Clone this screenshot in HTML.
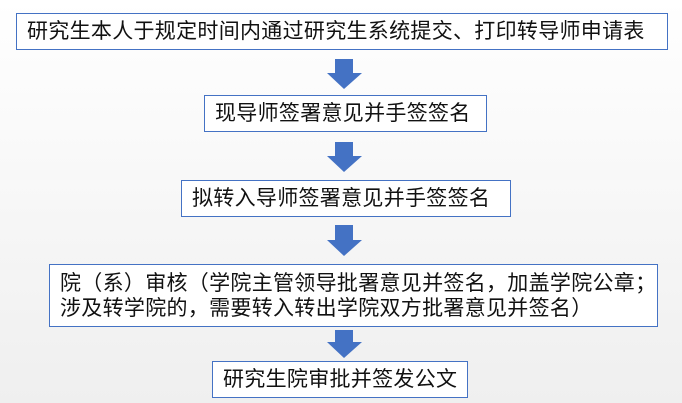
<!DOCTYPE html>
<html><head><meta charset="utf-8"><style>
body{margin:0;width:682px;height:403px;background:linear-gradient(#ffffff,#efefef);position:relative;overflow:hidden;font-family:"Liberation Sans","Noto Sans CJK SC",sans-serif;}
.b{position:absolute;background:#fff;border:1.5px solid #4472c4;box-sizing:border-box;font-size:21px;letter-spacing:0.3px;color:#111;line-height:25px;padding-left:10px;display:flex;align-items:center;white-space:nowrap}
svg{position:absolute;left:0;top:0}
</style></head><body>
<div class="b" style="left:16px;top:13px;width:652px;height:37px;">研究生本人于规定时间内通过研究生系统提交、打印转导师申请表</div>
<div class="b" style="left:204px;top:95px;width:283px;height:37px;">现导师签署意见并手签签名</div>
<div class="b" style="left:181px;top:180px;width:330px;height:37px;">拟转入导师签署意见并手签签名</div>
<div class="b" style="left:49px;top:264px;width:609px;height:63px;display:block;padding-top:6px;">院（系）审核（学院主管领导批署意见并签名，加盖学院公章；<br>涉及转学院的，需要转入转出学院双方批署意见并签名）</div>
<div class="b" style="left:212px;top:361px;width:256px;height:37px;">研究生院审批并签发公文</div>
<svg width="682" height="403">
<g fill="#4472c4">
<polygon points="335,59 353,59 353,73 362,73 344,89 327,73 335,73"/>
<polygon points="335,142 353,142 353,156 362,156 344,172 327,156 335,156"/>
<polygon points="335,225 353,225 353,240 362,240 344,256 327,240 335,240"/>
<polygon points="335,330 353,330 353,342 362,342 344,358 327,342 335,342"/>
</g></svg>
</body></html>
